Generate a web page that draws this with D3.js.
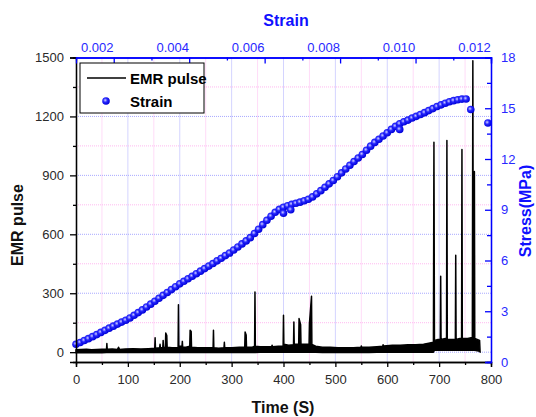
<!DOCTYPE html>
<html>
<head>
<meta charset="utf-8">
<script src="https://cdn.jsdelivr.net/npm/d3@7"></script>
<style>
body { margin: 0; background: #fff; }
text { font-family: "Liberation Sans", Arial, sans-serif; }
</style>
</head>
<body>
<div class="container"></div>
<script>
const WIDTH = 536;
const HEIGHT = 417;
const LEFT = 76, RIGHT = 491, TOP = 57.5, BOTTOM = 362;

// time (s) vs stress (MPa), strain series
var strainPoints = [
[0,1.05],[8,1.15],[16,1.27],[24,1.38],[32,1.5],[40,1.62],[48,1.75],[56,1.87],[64,2.0],[72,2.12],
[80,2.24],[88,2.36],[96,2.47],[104,2.6],[112,2.76],[120,2.92],[128,3.08],[136,3.25],[144,3.42],[152,3.59],
[160,3.77],[168,3.94],[176,4.11],[184,4.28],[192,4.45],[200,4.62],[208,4.77],[216,4.92],[224,5.07],[232,5.22],
[240,5.37],[248,5.52],[256,5.67],[264,5.82],[272,5.98],[280,6.13],[288,6.29],[296,6.44],[304,6.62],[312,6.8],
[320,6.98],[328,7.16],[336,7.35],[344,7.6],[352,7.85],[360,8.12],[368,8.38],[376,8.62],[384,8.85],[392,9.02],
[400,9.15],[408,9.24],[416,9.32],[424,9.38],[432,9.45],[440,9.53],[448,9.62],[456,9.76],[464,9.94],[472,10.13],
[480,10.33],[488,10.53],[496,10.73],[504,10.95],[512,11.18],[520,11.41],[528,11.63],[536,11.85],[544,12.06],[552,12.27],
[560,12.52],[568,12.76],[576,12.98],[584,13.17],[592,13.36],[600,13.55],[608,13.75],[616,13.93],[624,14.08],[632,14.2],
[640,14.3],[648,14.42],[656,14.52],[664,14.63],[672,14.74],[680,14.86],[688,14.98],[696,15.1],[704,15.2],[712,15.3],
[720,15.38],[728,15.45],[736,15.5],[744,15.54],[752,15.55]
];
var strainOutliers = [[400,8.8],[414,9.0],[624,13.75],[761,14.93],[794,14.13]];

// EMR pulse: [time, low, high]
var emrPoints = [
[0,-3,12],[10,-3,14],[20,-2,15],[30,-3,12],[40,-2,14],[50,-3,15],
[58.8,-2,15],[59.5,-2,44],[60.2,-2,15],[70,-2,16],[80,-2,14],[82,-2,25],[84,-2,14],[95,-2,16],[110,-2,18],[125,-2,16],[140,-2,18],
[151.8,-2,20],[152.5,-2,73],[153.2,-2,20],[161.3,-2,22],[162,-2,40],[162.7,-2,22],[167.3,-2,22],[168,-2,60],[168.7,-2,22],
[172.3,-2,25],[173,-2,98],[175,-2,85],[175.7,-2,25],[185,-2,22],[196.8,-2,22],[197.5,-2,242],[198.2,-2,30],
[204.3,-2,30],[205,-2,55],[205.7,-2,25],[212,-2,25],[219.3,-2,30],[220,-2,112],[222,-2,105],[222.7,-2,25],
[235,-2,22],[250,-2,22],[264.3,-2,22],[265,-2,112],[265.7,-2,22],[275,-2,20],[285.3,-2,22],[286,-2,50],[286.7,-2,22],
[300,-2,22],[315,-2,25],[325.3,-2,25],[326,-2,103],[328,-2,88],[328.7,-2,25],[340,-2,25],[344.3,-2,30],[345,-2,306],[345.7,-2,30],
[355,0,28],[365,0,28],[377.3,0,28],[378,0,35],[378.7,0,28],[390,0,30],[399.3,0,30],[400,0,188],[400.7,0,40],
[410,0,35],[419.3,0,38],[420,0,154],[420.7,0,40],[429.3,0,40],[430,0,171],[433,0,140],[433.7,0,40],[445,0,40],
[449.3,0,40],[450,0,146],[454,0,285],[454.7,0,40],[462,0,30],[475,-2,25],[490,-2,25],[505,-2,22],[520,-2,22],[535,-2,22],
[549.3,-2,25],[550,-2,32],[550.7,-2,25],[565,-2,25],[580,0,28],[591.3,0,30],[592,0,38],[592.7,0,32],[610,0,35],
[625,0,35],[640,0,38],[655,0,38],[670,0,40],[680,0,45],[689,0,50],[690,5,1068],[691,10,60],[698,10,65],
[702.3,10,65],[703,10,386],[703.7,10,65],[712,10,70],[714.3,10,70],[715,10,1078],[715.7,10,65],[725,10,65],
[731.3,10,65],[732,10,494],[732.7,10,65],[740,10,70],[743.3,10,70],[744,10,1032],[744.7,10,70],[755,10,70],
[764,10,75],[765,10,1484],[766,10,150],[767.3,10,150],[768,10,920],[768.7,10,70],[778,5,60],[779,0,0]
];

var timeTicks = [0,100,200,300,400,500,600,700,800];
var emrTicks = [0,300,600,900,1200,1500];
var stressTicks = [0,3,6,9,12,15,18];
var strainTicks = [0.002,0.004,0.006,0.008,0.010,0.012];

var svg = d3.select(".container").append("svg")
    .attr("width", WIDTH)
    .attr("height", HEIGHT);

var x = d3.scaleLinear().domain([0, 800]).range([LEFT, RIGHT]);
var yL = d3.scaleLinear().domain([-50, 1500]).range([BOTTOM, TOP]);
var yR = d3.scaleLinear().domain([0, 18]).range([BOTTOM, TOP]);
var xTop = d3.scaleLinear().domain([0.001, 0.012]).range([LEFT, RIGHT]);

var defs = svg.append("defs");
var grad = defs.append("radialGradient").attr("id", "ball")
    .attr("cx", "40%").attr("cy", "40%").attr("r", "60%");
grad.append("stop").attr("offset", "0%").attr("stop-color", "#d0d0ff");
grad.append("stop").attr("offset", "45%").attr("stop-color", "#2828ff");
grad.append("stop").attr("offset", "100%").attr("stop-color", "#0000d8");

// grid
var grid = svg.append("g");
d3.range(0, 801, 50).forEach(function(t){
    if (t == 0 || t == 800) return;
    grid.append("line")
        .attr("x1", x(t)).attr("x2", x(t)).attr("y1", TOP).attr("y2", BOTTOM)
        .attr("stroke", t % 100 == 0 ? "#a8a8ff" : "#ffb8f0")
        .attr("stroke-width", 1).attr("stroke-dasharray", "1,1");
});
d3.range(0, 1501, 150).forEach(function(v){
    if (v == 1500) return;
    grid.append("line")
        .attr("x1", LEFT).attr("x2", RIGHT).attr("y1", yL(v)).attr("y2", yL(v))
        .attr("stroke", v % 300 == 0 ? "#a8a8ff" : "#ffb8f0")
        .attr("stroke-width", 1).attr("stroke-dasharray", "1,1");
});

// EMR
var area = d3.area()
    .x(function(d){ return x(d[0]); })
    .y0(function(d){ return yL(d[1]); })
    .y1(function(d){ return yL(d[2]); });
svg.append("path").datum(emrPoints)
    .attr("d", area)
    .attr("fill", "#000").attr("stroke", "#000").attr("stroke-width", 1.5)
    .attr("stroke-linejoin", "round");

// strain circles
svg.append("g").selectAll("circle")
    .data(strainPoints.concat(strainOutliers))
    .enter().append("circle")
    .attr("cx", function(d){ return x(d[0]); })
    .attr("cy", function(d){ return yR(d[1]); })
    .attr("r", 3.8)
    .attr("fill", "url(#ball)");

// axes
var gb = svg.append("g").attr("transform", "translate(0," + BOTTOM + ")")
    .call(d3.axisBottom(x).tickValues(timeTicks).tickSize(5).tickPadding(8));
var gbMinor = svg.append("g").attr("transform", "translate(0," + BOTTOM + ")")
    .call(d3.axisBottom(x).tickValues(d3.range(50, 800, 100)).tickSize(3).tickFormat(""));

var gl = svg.append("g").attr("transform", "translate(" + LEFT + ",0)")
    .call(d3.axisLeft(yL).tickValues(emrTicks).tickSize(6).tickPadding(6).tickFormat(d3.format("d")));
var glMinor = svg.append("g").attr("transform", "translate(" + LEFT + ",0)")
    .call(d3.axisLeft(yL).tickValues(d3.range(150, 1500, 300)).tickSize(3).tickFormat(""));

var gr = svg.append("g").attr("transform", "translate(" + RIGHT + ",0)")
    .call(d3.axisRight(yR).tickValues(stressTicks).tickSize(-6).tickPadding(10));
var grMinor = svg.append("g").attr("transform", "translate(" + RIGHT + ",0)")
    .call(d3.axisRight(yR).tickValues(d3.range(1.5, 18, 3)).tickSize(-4).tickFormat(""));

var gt = svg.append("g").attr("transform", "translate(0," + TOP + ")")
    .call(d3.axisTop(xTop).tickValues(strainTicks).tickSize(-6).tickPadding(6).tickFormat(d3.format(".3f")));
gt.selectAll(".tick text").attr("dx", -17);
var gtMinor = svg.append("g").attr("transform", "translate(0," + TOP + ")")
    .call(d3.axisTop(xTop).tickValues([0.003,0.005,0.007,0.009,0.011]).tickSize(-3).tickFormat(""));

[gb, gbMinor, gl, glMinor].forEach(function(g){
    g.select(".domain").attr("stroke", "#000").attr("stroke-width", 1.3);
    g.selectAll(".tick line").attr("stroke", "#000").attr("stroke-width", 1.3);
    g.selectAll(".tick text").attr("fill", "#2a2a2a").attr("font-size", 13)
        .attr("font-family", "Liberation Sans, Arial, sans-serif");
});
[gr, grMinor, gt, gtMinor].forEach(function(g){
    g.select(".domain").attr("stroke", "#0000ff").attr("stroke-width", 1.3);
    g.selectAll(".tick line").attr("stroke", "#0000ff").attr("stroke-width", 1.3);
    g.selectAll(".tick text").attr("fill", "#2828ff").attr("font-size", 13)
        .attr("font-family", "Liberation Sans, Arial, sans-serif");
});

// titles
svg.append("text").attr("x", 283).attr("y", 413).attr("text-anchor", "middle")
    .attr("font-size", 16).attr("font-weight", "bold").attr("fill", "#111").text("Time (S)");
svg.append("text").attr("transform", "translate(23,225) rotate(-90)").attr("text-anchor", "middle")
    .attr("font-size", 16).attr("font-weight", "bold").attr("fill", "#111").text("EMR pulse");
svg.append("text").attr("transform", "translate(531,211) rotate(-90)").attr("text-anchor", "middle")
    .attr("font-size", 16).attr("font-weight", "bold").attr("fill", "#1010ff").text("Stress(MPa)");
svg.append("text").attr("x", 286).attr("y", 26).attr("text-anchor", "middle")
    .attr("font-size", 16).attr("font-weight", "bold").attr("fill", "#1010ff").text("Strain");

// legend
var lg = svg.append("g");
lg.append("rect").attr("x", 80).attr("y", 63).attr("width", 124).attr("height", 50)
    .attr("fill", "#fff").attr("stroke", "#000").attr("stroke-width", 1);
lg.append("line").attr("x1", 87).attr("x2", 126).attr("y1", 78).attr("y2", 78)
    .attr("stroke", "#000").attr("stroke-width", 1.5);
lg.append("text").attr("x", 130).attr("y", 84).attr("font-size", 15).attr("font-weight", "bold").text("EMR pulse");
lg.append("circle").attr("cx", 106).attr("cy", 101).attr("r", 3.8).attr("fill", "url(#ball)");
lg.append("text").attr("x", 130).attr("y", 107).attr("font-size", 15).attr("font-weight", "bold").text("Strain");
</script>
</body>
</html>
